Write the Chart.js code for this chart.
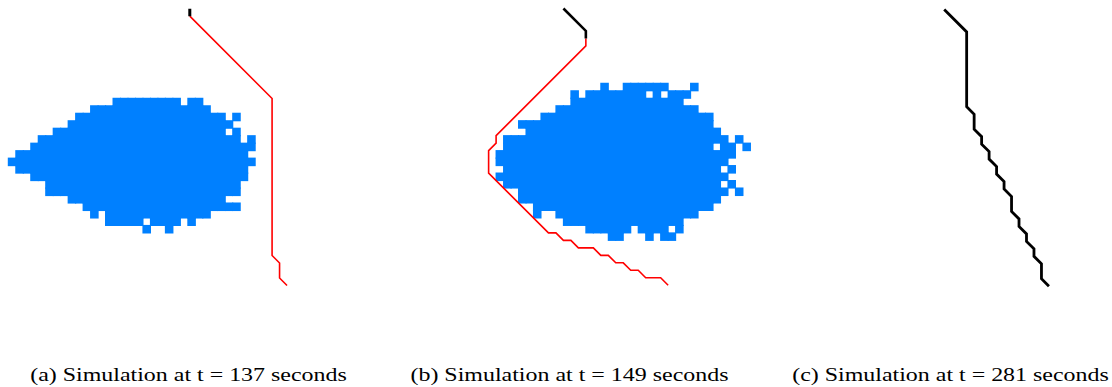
<!DOCTYPE html>
<html>
<head>
<meta charset="utf-8">
<script src="https://cdn.jsdelivr.net/npm/chart.js@4.4.1/dist/chart.umd.min.js"></script>
<style>
  html, body { margin: 0; padding: 0; background: #fff; overflow: hidden; }
  #wrap { position: relative; width: 1112px; height: 387px; }
  .panel { position: absolute; top: 0; width: 381px; height: 387px; }
  .panel canvas { position: absolute; left: 0; top: 0; }
  .cap { position: absolute; left: 0; top: 365px; width: 377px; text-align: center;
         font: 19px "Liberation Serif", "Times New Roman", serif; line-height: 19px; color: #000;
         white-space: nowrap; transform: scaleX(1.26); transform-origin: 50% 50%; }
</style>
</head>
<body>
<div id="wrap"></div>
<script>
// Captions under each panel
const captions = [
  '(a) Simulation at t = 137 seconds',
  '(b) Simulation at t = 149 seconds',
  '(c) Simulation at t = 281 seconds'
];

// Burnt cells, one entry per grid row: runs of [firstCol, lastCol]
const blobA = [
  [[14, 22], [24, 25]],
  [[11, 26]],
  [[9, 28], [30, 30]],
  [[8, 29]],
  [[6, 28], [30, 30]],
  [[4, 30], [32, 32]],
  [[3, 32]],
  [[1, 31]],
  [[0, 32]],
  [[1, 31]],
  [[3, 31]],
  [[5, 30]],
  [[5, 30]],
  [[8, 28]],
  [[10, 30]],
  [[11, 11], [13, 26]],
  [[13, 17], [19, 22], [24, 24]],
  [[18, 18], [21, 21]]
];
const blobB = [
  [[14, 14], [17, 22], [26, 26]],
  [[10, 10], [12, 19], [21, 21], [23, 25]],
  [[10, 24]],
  [[8, 26]],
  [[6, 28]],
  [[3, 28]],
  [[4, 29]],
  [[1, 30], [32, 32]],
  [[1, 28], [30, 31], [33, 33]],
  [[0, 31]],
  [[0, 30]],
  [[1, 29], [31, 31]],
  [[0, 30]],
  [[1, 29], [31, 31]],
  [[3, 30], [32, 32]],
  [[3, 29]],
  [[5, 28]],
  [[5, 5], [8, 26]],
  [[9, 24]],
  [[12, 17], [19, 22], [24, 24]],
  [[15, 16], [20, 20], [22, 23]]
];
const blobC = [];

// Paths in grid units [x, y]
const blackA = [[10, -10], [10, -9]];
const redA = [[10, -9], [21, 2], [21, 23], [22, 24], [22, 26], [23, 27]];
const blackB = [[9, -10], [12, -7], [12, -6]];
const redB = [[12, -6], [12, -5], [0, 7], [0, 8], [-1, 9], [-1, 12], [7, 20], [8, 20],
  [9, 21], [10, 21], [11, 22], [13, 22], [14, 23], [15, 23], [16, 24], [17, 24],
  [18, 25], [19, 25], [20, 26], [22, 26], [23, 27]];
const blackC = [[9, -10], [12, -7], [12, 3], [13, 4], [13, 6], [14, 7], [14, 8], [15, 9],
  [15, 10], [16, 11], [16, 12], [17, 13], [17, 14], [18, 15], [18, 17], [19, 18],
  [19, 19], [20, 20], [20, 21], [21, 22], [21, 23], [22, 24], [22, 26], [23, 27]];
const redC = [];

// layout
const CELL = 7.48;          // px per grid cell
const PANEL_W = 381, PANEL_H = 340;
const panels = [
  { left: 0,   ox: 115.0, oy: 83.5, blob: blobA, blobAt: [-14.26, 1.98], red: redA, black: blackA, blackW: 3 },
  { left: 381, ox: 115.1, oy: 83.3, blob: blobB, blobAt: [0, 0],         red: redB, black: blackB, blackW: 2.6 },
  { left: 762, ox: 114.9, oy: 84.3, blob: blobC, blobAt: [0, 0],         red: redC, black: blackC, blackW: 2.8 }
];

const toXY = arr => arr.map(p => ({ x: p[0], y: p[1] }));

function cells(rows, at) {
  const out = [];
  rows.forEach((runs, r) => {
    runs.forEach(([a, b]) => {
      for (let c = a; c <= b; c++) out.push({ x: at[0] + c + 0.5, y: at[1] + r + 0.5 });
    });
  });
  return out;
}

const wrap = document.getElementById('wrap');
panels.forEach((p, i) => {
  const div = document.createElement('div');
  div.className = 'panel';
  div.style.left = p.left + 'px';
  const cv = document.createElement('canvas');
  cv.width = PANEL_W; cv.height = PANEL_H;
  cv.style.width = PANEL_W + 'px'; cv.style.height = PANEL_H + 'px';
  div.appendChild(cv);
  const cap = document.createElement('div');
  cap.className = 'cap';
  cap.textContent = captions[i];
  div.appendChild(cap);
  wrap.appendChild(div);

  const xmin = -p.ox / CELL, ymin = -p.oy / CELL;
  new Chart(cv.getContext('2d'), {
    type: 'scatter',
    data: {
      datasets: [
        {
          label: 'front',
          data: toXY(p.black),
          showLine: true,
          borderColor: '#000',
          borderWidth: p.blackW,
          pointRadius: 0,
          borderCapStyle: 'butt',
          borderJoinStyle: 'miter'
        },
        {
          label: 'path',
          data: toXY(p.red),
          showLine: true,
          borderColor: '#ff0000',
          borderWidth: 1.6,
          pointRadius: 0,
          borderJoinStyle: 'miter'
        },
        {
          label: 'burnt',
          data: cells(p.blob, p.blobAt),
          pointStyle: 'rect',
          backgroundColor: '#0080ff',
          borderWidth: 0,
          pointRadius: (ctx) => {
            const s = ctx.chart.scales.x;
            return (Math.abs(s.getPixelForValue(1) - s.getPixelForValue(0)) + 1.1) / Math.SQRT2;
          },
          pointHoverRadius: 0
        }
      ]
    },
    options: {
      responsive: false,
      animation: false,
      devicePixelRatio: 1,
      events: [],
      layout: { padding: 0 },
      plugins: { legend: { display: false }, tooltip: { enabled: false } },
      scales: {
        x: { type: 'linear', display: false, min: xmin, max: xmin + PANEL_W / CELL },
        y: { type: 'linear', display: false, reverse: true, min: ymin, max: ymin + PANEL_H / CELL }
      }
    }
  });
});
</script>
</body>
</html>
